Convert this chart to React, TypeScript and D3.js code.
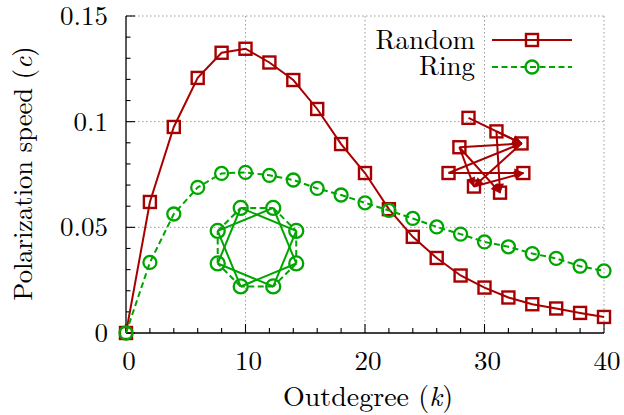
import React from "react";
import * as d3 from "d3";

const kValues = [0, 2, 4, 6, 8, 10, 12, 14, 16, 18, 20, 22, 24, 26, 28, 30, 32, 34, 36, 38, 40];
const randomSpeed = [0, 0.062, 0.0975, 0.1207, 0.1326, 0.1345, 0.128, 0.1197, 0.106, 0.0894, 0.0757, 0.0586, 0.0455, 0.0355, 0.0272, 0.0215, 0.0168, 0.0136, 0.0116, 0.0095, 0.0076];
const ringSpeed = [0, 0.0334, 0.0563, 0.0689, 0.0755, 0.076, 0.0746, 0.0724, 0.0684, 0.0653, 0.0616, 0.058, 0.0542, 0.0502, 0.0468, 0.0431, 0.0408, 0.0376, 0.0353, 0.0316, 0.0294];
const xTicks = [0, 10, 20, 30, 40];
const yTicks = [0, 0.05, 0.1, 0.15];
const yTickLabels = ["0", "0.05", "0.1", "0.15"];
const seriesNames = ["Random", "Ring"];

// inset: random digraph nodes (in data coordinates k, c)
const randNodesK = [28.66, 31.0, 33.1, 27.9, 26.99, 33.25, 29.12, 31.3];
const randNodesC = [0.1018, 0.0954, 0.0897, 0.0879, 0.0757, 0.0757, 0.0693, 0.0664];
const randEdges: [number, number][] = [[0, 2], [3, 2], [4, 2], [4, 5], [1, 7], [3, 7], [2, 6], [6, 5], [3, 6], [1, 2]];
// inset: ring centre (data coords) and node count
const ringCenterK = 10.96;
const ringCenterC = 0.0406;
const ringNodeCount = 8;

const RED = "#a80000";
const GREEN = "#00a500";
const FONT = '"Latin Modern Roman", "Liberation Serif", serif';

export default function App() {
  const W = 624, H = 415;
  const m = { left: 126, right: 604, top: 16, bottom: 333 };
  const x = d3.scaleLinear().domain([0, 40]).range([m.left, m.right]);
  const y = d3.scaleLinear().domain([0, 0.15]).range([m.bottom, m.top]);

  const line = d3.line<number>().x((_, i) => x(kValues[i])).y((d) => y(d));

  const xMinor = d3.range(0, 41, 2);
  const yMinor = d3.range(0, 0.1501, 0.01);

  const sq = 12;
  const cr = 6.5;
  const square = (cx: number, cy: number, key: any, color = RED) => (
    <rect key={key} x={cx - sq / 2} y={cy - sq / 2} width={sq} height={sq} fill="none" stroke={color} strokeWidth={2.4} />
  );
  const circle = (cx: number, cy: number, key: any, r = cr) => (
    <circle key={key} cx={cx} cy={cy} r={r} fill="none" stroke={GREEN} strokeWidth={2.3} />
  );

  const rcx = x(ringCenterK), rcy = y(ringCenterC), rR = 42.5;
  const ringNodes = d3.range(ringNodeCount).map((i) => {
    const a = ((22.5 + 45 * i) * Math.PI) / 180;
    return [rcx + rR * Math.cos(a), rcy + rR * Math.sin(a)];
  });

  const randNodes = randNodesK.map((k, i) => [x(k), y(randNodesC[i])]);
  const ts: React.CSSProperties = { fontFamily: FONT, fontSize: 27 };

  return (
    <svg width={W} height={H} style={{ position: "absolute", left: 0, top: 0, background: "#fff" }}>
      <defs>
        <marker id="arr" viewBox="0 0 10 10" refX="9" refY="5" markerWidth="5.5" markerHeight="5" orient="auto" markerUnits="strokeWidth">
          <path d="M0,0.5 L10,5 L0,9.5 z" fill={RED} />
        </marker>
      </defs>
      {xTicks.filter((t) => t > 0).map((t) => (
        <line key={"gx" + t} x1={x(t)} x2={x(t)} y1={m.top} y2={m.bottom} stroke="#999" strokeWidth={1} strokeDasharray="1.5,2.5" />
      ))}
      {yTicks.filter((t) => t > 0).map((t) => (
        <line key={"gy" + t} x1={m.left} x2={m.right} y1={y(t)} y2={y(t)} stroke="#999" strokeWidth={1} strokeDasharray="1.5,2.5" />
      ))}
      <line x1={m.left} x2={m.left} y1={m.top} y2={m.bottom} stroke="#000" strokeWidth={1.3} />
      <line x1={m.left} x2={m.right} y1={m.bottom} y2={m.bottom} stroke="#000" strokeWidth={1.3} />
      {xMinor.map((t) => (
        <line key={"xt" + t} x1={x(t)} x2={x(t)} y1={m.bottom} y2={m.bottom - (t % 10 === 0 ? 9 : 5)} stroke="#000" strokeWidth={1.1} />
      ))}
      {yMinor.map((t, i) => (
        <line key={"yt" + i} x1={m.left} x2={m.left + (i % 5 === 0 ? 9 : 4.5)} y1={y(t)} y2={y(t)} stroke="#000" strokeWidth={1.1} />
      ))}
      {xTicks.map((t) => (
        <text key={"xl" + t} x={x(t) + 3} y={370} style={ts} textAnchor="middle">{t}</text>
      ))}
      {yTicks.map((t, i) => (
        <text key={"yl" + t} x={108} y={y(t) + 9} style={ts} textAnchor="end">{yTickLabels[i]}</text>
      ))}
      <text x={368} y={406} style={{ ...ts, fontSize: 28 }} textAnchor="middle">
        Outdegree (<tspan fontStyle="italic">k</tspan>)
      </text>
      <text transform={`translate(32,173.5) rotate(-90)`} style={{ ...ts, fontSize: 26.5 }} textAnchor="middle">
        Polarization speed (<tspan fontStyle="italic">c</tspan>)
      </text>

      <g>
        {ringNodes.map((p, i) => {
          const q = ringNodes[(i + 1) % ringNodeCount];
          return <line key={"re" + i} x1={p[0]} y1={p[1]} x2={q[0]} y2={q[1]} stroke={GREEN} strokeWidth={2} strokeDasharray="6,3.5" />;
        })}
        {ringNodes.map((p, i) => {
          const q = ringNodes[(i + 2) % ringNodeCount];
          return <line key={"rc" + i} x1={p[0]} y1={p[1]} x2={q[0]} y2={q[1]} stroke={GREEN} strokeWidth={2} />;
        })}
        {ringNodes.map((p, i) => circle(p[0], p[1], "rn" + i, 7))}
      </g>
      <g>
        {randEdges.map(([a, b], i) => (
          <line key={"de" + i} x1={randNodes[a][0]} y1={randNodes[a][1]} x2={randNodes[b][0]} y2={randNodes[b][1]} stroke={RED} strokeWidth={2} markerEnd="url(#arr)" />
        ))}
        {randNodes.map((p, i) => square(p[0], p[1], "dn" + i))}
      </g>

      <path d={line(randomSpeed) || ""} fill="none" stroke={RED} strokeWidth={2} />
      {randomSpeed.map((v, i) => square(x(kValues[i]), y(v), "rs" + i))}
      <path d={line(ringSpeed) || ""} fill="none" stroke={GREEN} strokeWidth={2} strokeDasharray="6,3.5" />
      {ringSpeed.map((v, i) => circle(x(kValues[i]), y(v), "gs" + i))}

      <text x={475} y={49} style={ts} textAnchor="end">{seriesNames[0]}</text>
      <line x1={492} x2={572} y1={40} y2={40} stroke={RED} strokeWidth={2} />
      {square(532, 40, "lg1")}
      <text x={475} y={75} style={ts} textAnchor="end">{seriesNames[1]}</text>
      <line x1={492} x2={572} y1={67} y2={67} stroke={GREEN} strokeWidth={2} strokeDasharray="6,3.5" />
      {circle(532, 67, "lg2")}
    </svg>
  );
}
